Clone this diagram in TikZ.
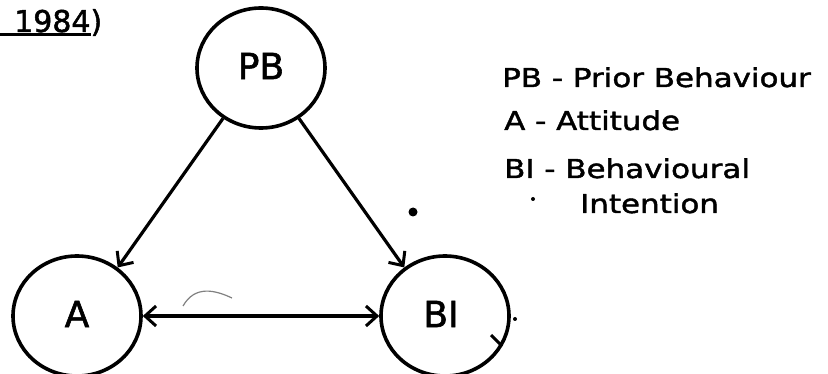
\documentclass[tikz,border=0pt]{standalone}
\usepackage{fontspec}
\setmainfont{DejaVu Sans}
\newfontfamily\penfont[FakeBold=1.6]{DejaVu Sans}
\newfontfamily\widepen[FakeStretch=1.19,FakeBold=1.6]{DejaVu Sans}
\usetikzlibrary{arrows.meta,shapes.geometric}
\begin{document}
\begin{tikzpicture}[x=1pt,y=-1pt,
  ring/.style={draw,ellipse,line width=3.6pt,inner sep=0pt,minimum width=128pt,minimum height=120pt},
  link/.style={line width=3.2pt,-{Straight Barb[length=11pt,width=20pt,line width=3pt]}},
  both/.style={line width=3.2pt,{Straight Barb[length=11pt,width=20pt,line width=3pt]}-{Straight Barb[length=11pt,width=20pt,line width=3pt]}},
  key/.style={anchor=base west,inner sep=0pt,font=\widepen\fontsize{26}{30}\selectfont},
  lbl/.style={font=\penfont\fontsize{36}{40}\selectfont}]
\useasboundingbox (0,0) rectangle (828,374);

% the three constructs
\node[ring] (PB) at (261,68) {};
\node[ring] (A)  at (77,316) {};
\node[ring] (BI) at (445,316) {};
\node[lbl] (tPB) at (261,66) {PB};
\node[lbl] (tA)  at (77,314) {A};
\node[lbl] (tBI) at (441,314) {BI};

% influences
\draw[link] (PB.233) -- (A.50);
\draw[link] (PB.307) -- (BI.130);
\draw[both] (A.east) -- (BI.west);

% citation fragment
\node[anchor=base west,inner sep=0pt,font=\penfont\fontsize{30}{34}\selectfont] (yr) at (14,32) {1984)};
\coordinate (u1) at (0,35);
\coordinate (u2) at (91,35);
\draw[line width=3pt] (u1) -- (u2);

% legend
\node[key] (k1) at (502,87)  {PB - Prior Behaviour};
\node[key] (k2) at (504,130) {A - Attitude};
\node[key] (k3) at (504,178) {BI - Behavioural};
\node[key] (k4) at (580,213) {Intention};

% stray pen marks
\coordinate (h1) at (491,335);
\coordinate (h2) at (502,346);
\draw[line width=3pt] (h1) -- (h2);
\fill (413,212) circle (4.5);
\fill (533,199) circle (2);
\fill (515,319) circle (2);
\coordinate (c1) at (183,306);
\coordinate (c2) at (232,298);
\draw[line width=1.2pt,gray] (c1) .. controls (195,285) and (215,290) .. (c2);
\end{tikzpicture}
\end{document}
